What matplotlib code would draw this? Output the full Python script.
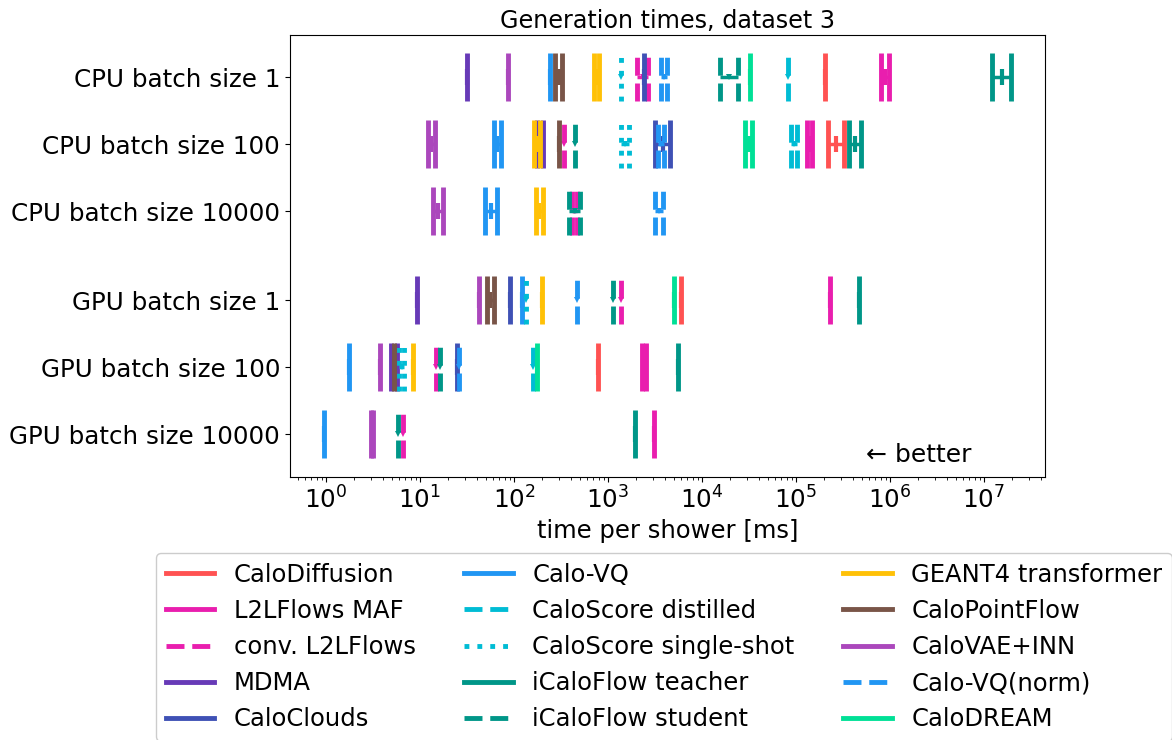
import matplotlib
matplotlib.use("Agg")
import matplotlib.pyplot as plt
from matplotlib.lines import Line2D
import numpy as np

# Hardware / batch configurations (top to bottom)
configs = ["CPU batch size 1", "CPU batch size 100", "CPU batch size 10000",
           "GPU batch size 1", "GPU batch size 100", "GPU batch size 10000"]
config_pos = [0.0, 1.0, 2.0, 3.33, 4.33, 5.33]

# Generation time per shower in ms, given as (low, high) per configuration;
# None where a model has no measurement.
t_calodiffusion = [(2.03e5, 2.03e5), (2.2e5, 3.24e5), None, (6000, 6000), (790, 790), None]
t_l2lflows_maf = [(8.0e5, 9.7e5), (1.3e5, 1.5e5), None, (2.33e5, 2.33e5), (2290, 2520), (3090, 3090)]
t_conv_l2lflows = [(2040, 2680), (340, 340), (415, 465), (1375, 1375), (14.8, 14.8), (6.6, 6.6)]
t_mdma = [(31.6, 31.6), (176, 203), None, (9.2, 9.2), (4.9, 5.7), None]
t_caloclouds = [(2390, 2390), (3170, 4570), None, (91.7, 91.7), (24.7, 24.7), None]
t_calovq = [(241, 241), (61.2, 72.7), (49, 66), (123, 123), (1.78, 1.78), (0.95, 0.95)]
t_caloscore_distilled = [(8.2e4, 8.2e4), (8.9e4, 1.02e5), None, None, (161, 161), None]
t_caloscore_single = [(1375, 1375), (1375, 1670), None, (134, 134), (6.0, 6.8), None]
t_icaloflow_teacher = [(1.22e7, 1.94e7), (3.7e5, 4.9e5), None, (4.73e5, 4.73e5), (5560, 5560), (1960, 1960)]
t_icaloflow_student = [(1.55e4, 2.4e4), (445, 445), (385, 505), (1130, 1130), (16.3, 16.3), (5.8, 5.8)]
t_geant4_transformer = [(708, 800), (163, 189), (171, 203), (199, 199), (8.5, 8.5), None]
t_calopointflow = [(274, 324), (300, 300), None, (51.6, 61.3), (5.35, 5.35), None]
t_calovae_inn = [(86, 86), (12.2, 14.4), (13.7, 17.6), (42.8, 42.8), (3.75, 3.75), (3.0, 3.2)]
t_calovq_norm = [(3650, 4240), (3400, 3960), (3170, 3850), (468, 468), (26.3, 26.3), None]
t_calodream = [(3.24e4, 3.24e4), (2.9e4, 3.4e4), None, (5000, 5000), (177, 177), None]

models = [
    ("CaloDiffusion", t_calodiffusion, "#ff5252", "-"),
    ("L2LFlows MAF", t_l2lflows_maf, "#e91eae", "-"),
    ("conv. L2LFlows", t_conv_l2lflows, "#e91eae", "--"),
    ("MDMA", t_mdma, "#673ab7", "-"),
    ("CaloClouds", t_caloclouds, "#3f51b5", "-"),
    ("Calo-VQ", t_calovq, "#2196f3", "-"),
    ("CaloScore distilled", t_caloscore_distilled, "#00bcd4", "--"),
    ("CaloScore single-shot", t_caloscore_single, "#00bcd4", ":"),
    ("iCaloFlow teacher", t_icaloflow_teacher, "#009688", "-"),
    ("iCaloFlow student", t_icaloflow_student, "#009688", "--"),
    ("GEANT4 transformer", t_geant4_transformer, "#ffc107", "-"),
    ("CaloPointFlow", t_calopointflow, "#795548", "-"),
    ("CaloVAE+INN", t_calovae_inn, "#ab47bc", "-"),
    ("Calo-VQ(norm)", t_calovq_norm, "#2196f3", "--"),
    ("CaloDREAM", t_calodream, "#00e096", "-"),
]

plt.rcParams["font.family"] = ["DejaVu Sans"]
plt.rcParams["font.size"] = 17.7

fig = plt.figure(figsize=(11.72, 7.40), dpi=100)
ax = fig.add_axes([0.2474, 0.3554, 0.6442, 0.5973])

half = 0.36
lw = 3.5
for name, times, color, ls in models:
    for pos, t in zip(config_pos, times):
        if t is None:
            continue
        lo, hi = t
        xs = [lo] if np.isclose(lo, hi) else [lo, hi]
        for xv in xs:
            ax.plot([xv, xv], [pos + half, pos - half], color=color, ls=ls, lw=lw,
                    solid_capstyle="butt", dash_capstyle="butt")
        if len(xs) == 2:
            ax.plot([lo, hi], [pos, pos], color=color, lw=2.5, solid_capstyle="butt")
        mid = np.sqrt(lo * hi)
        if ls == "-":
            ax.plot([mid], [pos], marker="|", ms=12, mew=3, color=color)
        else:
            ax.plot([mid], [pos], marker="v", ms=5, color=color, mew=0)

ax.set_xscale("log")
ax.set_xlim(0.414, 4.46e7)
ax.set_ylim(5.97, -0.63)
ax.set_yticks(config_pos)
ax.set_yticklabels(configs)
ax.set_xlabel("time per shower [ms]", fontsize=17.5)
ax.set_title("Generation times, dataset 3", fontsize=17.2, pad=5)
ax.text(0.763, 0.05, "\u2190 better", transform=ax.transAxes, ha="left", va="center",
        fontsize=18)

handles = [Line2D([0], [0], color=c, ls=s, lw=lw) for _, _, c, s in models]
labels = [n for n, _, _, _ in models]
fig.legend(handles, labels, ncol=3, loc="upper left",
           bbox_to_anchor=(156 / 1172, 1 - 553 / 740), borderaxespad=0.0,
           fontsize=17.5, framealpha=1.0, columnspacing=2.0)

fig.savefig("out.png", dpi=100)
